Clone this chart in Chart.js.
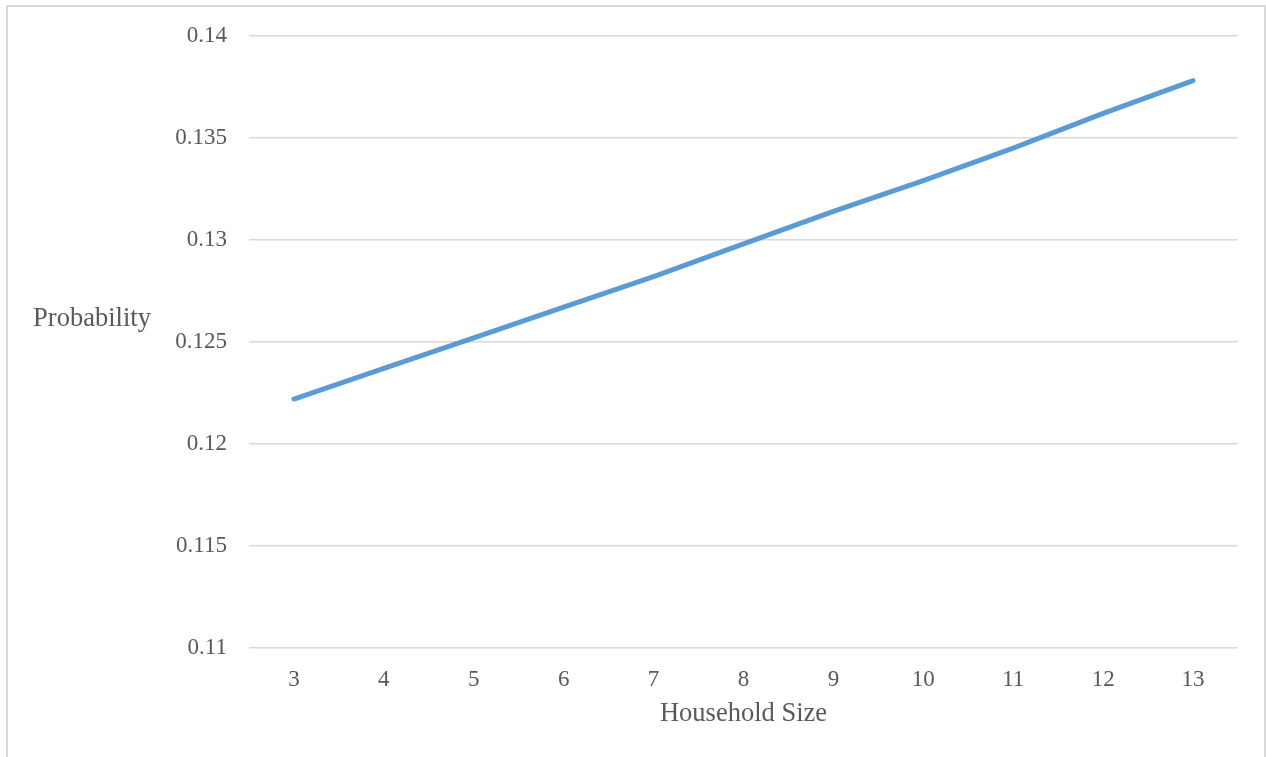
<!DOCTYPE html>
<html>
<head>
<meta charset="utf-8">
<script src="https://cdn.jsdelivr.net/npm/chart.js@4.4.1/dist/chart.umd.min.js"></script>
<style>
    html, body { margin: 0; padding: 0; background: #ffffff; }
    canvas { display: block; }
</style>
</head>
<body>
<canvas id="probChart" width="1266" height="757"></canvas>
<script>
// Tamanho do domicílio (eixo X)
var householdSizes = ['3', '4', '5', '6', '7', '8', '9', '10', '11', '12', '13'];

// Probabilidade estimada para cada tamanho
var probability = [0.1222, 0.1237, 0.1252, 0.1267, 0.1282, 0.1298, 0.1314, 0.1329, 0.1345, 0.1362, 0.1378];

// Limites e passo do eixo Y
var yMin = 0.11;
var yMax = 0.14;
var yStep = 0.005;

var textColor = '#595959';
var gridColor = '#d9d9d9';
var fontFamily = '"Liberation Serif", "Times New Roman", serif';

// Moldura e títulos dos eixos (o título do Y fica na horizontal)
var extrasPlugin = {
    id: 'extras',
    beforeDraw: function(chart) {
        var ctx = chart.ctx;
        ctx.save();
        ctx.fillStyle = '#ffffff';
        ctx.fillRect(0, 0, chart.width, chart.height);
        ctx.strokeStyle = gridColor;
        ctx.lineWidth = 2;
        ctx.strokeRect(7, 6, 1258, 800);
        ctx.restore();
    },
    afterDraw: function(chart) {
        var ctx = chart.ctx;
        var area = chart.chartArea;
        ctx.save();
        ctx.fillStyle = textColor;
        ctx.font = '26.5px ' + fontFamily;
        ctx.textAlign = 'center';
        ctx.textBaseline = 'middle';
        ctx.fillText('Probability', 92, 319);
        ctx.fillText('Household Size', (area.left + area.right) / 2, 714);
        ctx.restore();
    }
};

var ctxProb = document.getElementById('probChart').getContext('2d');
new Chart(ctxProb, {
    type: 'line',
    data: {
        labels: householdSizes,
        datasets: [{
            label: 'Probability',
            data: probability,
            borderColor: '#5b9bd5',
            backgroundColor: '#5b9bd5',
            borderWidth: 5,
            borderCapStyle: 'round',
            pointRadius: 0,
            tension: 0,
            fill: false
        }]
    },
    options: {
        responsive: false,
        animation: false,
        layout: {
            padding: { left: 0, right: 28, top: 34, bottom: 0 }
        },
        plugins: {
            legend: { display: false },
            tooltip: { enabled: false }
        },
        scales: {
            x: {
                offset: true,
                grid: { display: false, drawTicks: false },
                border: { display: false },
                ticks: {
                    color: textColor,
                    font: { family: fontFamily, size: 23 },
                    padding: 18,
                    maxRotation: 0
                },
                afterFit: function(scale) { scale.height = 109; }
            },
            y: {
                min: yMin,
                max: yMax,
                grid: { color: gridColor, lineWidth: 1.5, drawTicks: false },
                border: { display: false },
                ticks: {
                    stepSize: yStep,
                    color: textColor,
                    font: { family: fontFamily, size: 23 },
                    padding: 22,
                    callback: function(value) {
                        return parseFloat(value.toFixed(3)).toString();
                    }
                },
                afterFit: function(scale) { scale.width = 249; }
            }
        }
    },
    plugins: [extrasPlugin]
});
</script>
</body>
</html>
